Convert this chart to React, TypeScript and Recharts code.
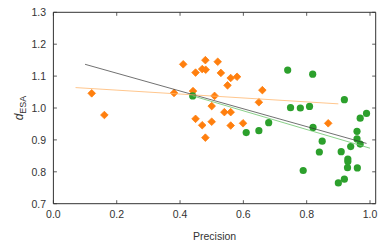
import React from 'react';
import { ScatterChart, Scatter, XAxis, YAxis, ReferenceArea, Label } from 'recharts';

// orange diamonds: precision / d_ESA
const orangeX = [0.121, 0.161, 0.381, 0.410, 0.441, 0.449, 0.449, 0.470, 0.481, 0.480, 0.470, 0.480, 0.500, 0.500, 0.509, 0.519, 0.529, 0.540, 0.550, 0.560, 0.560, 0.560, 0.580, 0.599, 0.649, 0.660, 0.868];
const orangeY = [1.046, 0.978, 1.047, 1.137, 1.053, 1.111, 0.966, 1.122, 1.120, 1.150, 0.946, 0.907, 1.006, 0.957, 1.038, 1.145, 1.110, 0.987, 1.071, 1.094, 0.987, 0.945, 1.098, 0.952, 1.018, 1.056, 0.952];

// green circles
const greenX = [0.440, 0.609, 0.649, 0.680, 0.740, 0.749, 0.780, 0.789, 0.809, 0.819, 0.820, 0.840, 0.849, 0.900, 0.909, 0.919, 0.919, 0.930, 0.930, 0.929, 0.939, 0.959, 0.959, 0.960, 0.969, 0.969, 0.989];
const greenY = [1.038, 0.923, 0.929, 0.954, 1.119, 1.001, 1.000, 0.804, 1.005, 1.106, 0.939, 0.862, 0.896, 0.765, 0.863, 0.777, 1.026, 0.840, 0.832, 0.813, 0.879, 0.927, 0.903, 0.812, 0.887, 0.968, 0.983];

// fitted lines (endpoints)
const fitAllX = [0.10, 0.989];
const fitAllY = [1.137, 0.889];
const fitGreenX = [0.44, 1.0];
const fitGreenY = [1.038, 0.874];
const fitOrangeX = [0.07, 0.90];
const fitOrangeY = [1.064, 1.013];

const xTicks = [0, 0.2, 0.4, 0.6, 0.8, 1.0];
const yTicks = [0.7, 0.8, 0.9, 1.0, 1.1, 1.2, 1.3];

const zip = (xs: number[], ys: number[]) => xs.map((x, i) => ({ x, y: ys[i] }));

const TOP = 12.3;
const BOTTOM = 203.7;
const LEFT = 53.4;
const RIGHT = 375.7;
const TXT = '#333';
const FONT = '"Liberation Sans", Arial, sans-serif';

const XTick = (props: any) => {
  const { x, payload } = props;
  return (
    <g>
      <line x1={x} x2={x} y1={BOTTOM} y2={BOTTOM - 3.5} stroke={TXT} strokeWidth={0.8} />
      <line x1={x} x2={x} y1={TOP} y2={TOP + 3.5} stroke={TXT} strokeWidth={0.8} />
      <text x={x} y={218} textAnchor="middle" fill={TXT} fontSize={10.5} fontFamily={FONT}>
        {payload.value.toFixed(1)}
      </text>
    </g>
  );
};

const YTick = (props: any) => {
  const { y, payload } = props;
  return (
    <g>
      <line x1={LEFT} x2={LEFT + 3.5} y1={y} y2={y} stroke={TXT} strokeWidth={0.8} />
      <line x1={RIGHT} x2={RIGHT - 3.5} y1={y} y2={y} stroke={TXT} strokeWidth={0.8} />
      <text x={46} y={y + 3.8} textAnchor="end" fill={TXT} fontSize={10.5} fontFamily={FONT}>
        {payload.value.toFixed(1)}
      </text>
    </g>
  );
};

const Diamond = (props: any) => {
  const { cx, cy } = props;
  const r = 3.8;
  return <polygon points={`${cx},${cy - r} ${cx + r},${cy} ${cx},${cy + r} ${cx - r},${cy}`} fill="#ff7f0e" stroke="#ff7f0e" strokeWidth={0.8} strokeLinejoin="round" />;
};

const Dot = (props: any) => <circle cx={props.cx} cy={props.cy} r={3.6} fill="#2ca02c" />;

const NoDot = () => <g />;

const YLabel = () => (
  <text transform="translate(23,108) rotate(-90)" textAnchor="middle" fill={TXT} fontFamily={FONT} fontSize={12}>
    <tspan fontStyle="italic">d</tspan>
    <tspan fontSize={9} dy={3}>ESA</tspan>
  </text>
);

const XLabel = () => (
  <text x={(LEFT + RIGHT) / 2} y={240} textAnchor="middle" fill={TXT} fontFamily={FONT} fontSize={10.5}>
    Precision
  </text>
);

export default function App() {
  return (
    <div style={{ position: 'absolute', left: 0, top: 0, width: 384, height: 245, background: '#fff' }}>
      <ScatterChart width={384} height={245} margin={{ top: TOP, right: 384 - RIGHT, bottom: 245 - BOTTOM - 30, left: LEFT - 40 }}>
        <XAxis type="number" dataKey="x" domain={[0, 1.018]} ticks={xTicks} axisLine={false} tickLine={false} tick={XTick} height={30} allowDataOverflow>
          <Label content={XLabel} />
        </XAxis>
        <YAxis type="number" dataKey="y" domain={[0.7, 1.3]} ticks={yTicks} axisLine={false} tickLine={false} tick={YTick} width={40} allowDataOverflow>
          <Label content={YLabel} />
        </YAxis>
        <ReferenceArea x1={0} x2={1.018} y1={0.7} y2={1.3} fill="none" stroke={TXT} strokeWidth={1} />
        <Scatter data={zip(orangeX, orangeY)} shape={Diamond} isAnimationActive={false} />
        <Scatter data={zip(greenX, greenY)} shape={Dot} isAnimationActive={false} />
        <Scatter data={zip(fitAllX, fitAllY)} line={{ stroke: '#333', strokeWidth: 0.7 }} shape={NoDot} isAnimationActive={false} />
        <Scatter data={zip(fitGreenX, fitGreenY)} line={{ stroke: '#6cc46c', strokeWidth: 0.8 }} shape={NoDot} isAnimationActive={false} />
        <Scatter data={zip(fitOrangeX, fitOrangeY)} line={{ stroke: '#ffb870', strokeWidth: 0.8 }} shape={NoDot} isAnimationActive={false} />
      </ScatterChart>
    </div>
  );
}
